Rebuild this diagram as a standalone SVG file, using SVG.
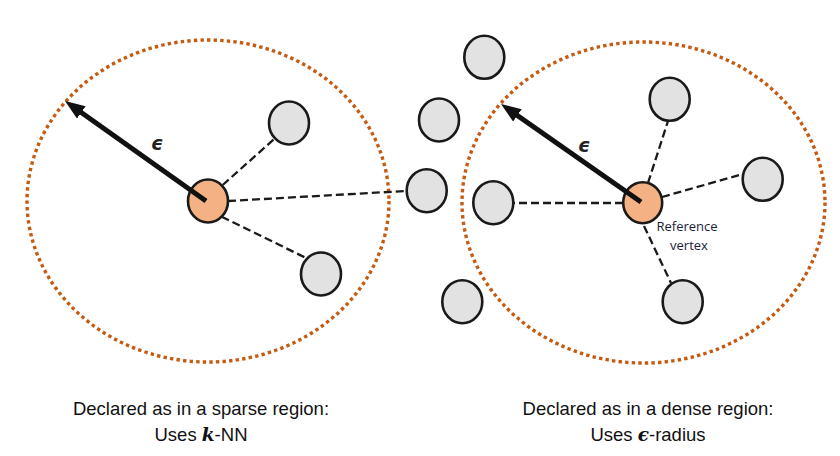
<svg xmlns="http://www.w3.org/2000/svg" width="840" height="456" viewBox="0 0 840 456">
<style>
.region{fill:none;stroke:#c55a11;stroke-width:3.4;stroke-dasharray:3.4 3.2}
.node{fill:#e2e2e2;stroke:#1a1a1a;stroke-width:2.6}
.ref{fill:#f4b183;stroke:#1a1a1a;stroke-width:2.6}
.edge{stroke:#1a1a1a;stroke-width:2.3;stroke-dasharray:8 4;fill:none}
.radius{stroke:#111;stroke-width:5;fill:none;marker-end:url(#ah)}
.eps{font-family:"DejaVu Sans",sans-serif;font-style:italic;font-weight:bold;font-size:19px;fill:#222}
.cap{font-family:"Liberation Sans",Arial,sans-serif;font-size:18.5px;fill:#111;text-anchor:middle}
.math{font-family:"DejaVu Serif",serif;font-style:italic;font-weight:bold}
.lbl{font-family:"Open Sans",sans-serif;font-size:13px;fill:#1b1b3a;text-anchor:middle}
</style>
<defs>
<marker id="ah" markerWidth="4" markerHeight="3" refX="2" refY="1.5" orient="auto" markerUnits="strokeWidth">
<path d="M0,0 L4,1.5 L0,3 z" fill="#111"/>
</marker>
</defs>
<g id="regions">
<ellipse id="sparse-region" class="region" cx="208" cy="201" rx="181" ry="161"/>
<ellipse id="dense-region" class="region" cx="643.5" cy="202.5" rx="181.5" ry="160.5"/>
</g>
<g id="connectors">
<line class="edge" x1="222.7" y1="185" x2="275" y2="138.3"/>
<line class="edge" x1="228" y1="201" x2="406" y2="191"/>
<line class="edge" x1="221.7" y1="216.7" x2="306.7" y2="258.3"/>
<line class="edge" x1="648" y1="183" x2="668" y2="121"/>
<line class="edge" x1="662" y1="197" x2="743" y2="174"/>
<line class="edge" x1="623" y1="203" x2="514" y2="203"/>
<line class="edge" x1="644" y1="226" x2="671" y2="283"/>
</g>
<g id="n-s1"><ellipse class="node" cx="289" cy="123" rx="20" ry="21.5"/></g>
<g id="n-s2"><ellipse class="node" cx="321" cy="274" rx="20" ry="21.5"/></g>
<g id="n-mid"><ellipse class="node" cx="426.7" cy="190.7" rx="20" ry="21.5"/></g>
<g id="n-o1"><ellipse class="node" cx="484.3" cy="57.3" rx="20" ry="21.5"/></g>
<g id="n-o2"><ellipse class="node" cx="439" cy="120" rx="20" ry="21.5"/></g>
<g id="n-o3"><ellipse class="node" cx="462.3" cy="301.7" rx="20" ry="21.5"/></g>
<g id="n-d1"><ellipse class="node" cx="669.7" cy="99.3" rx="20" ry="21.5"/></g>
<g id="n-d2"><ellipse class="node" cx="762.7" cy="179.3" rx="20" ry="21.5"/></g>
<g id="n-d3"><ellipse class="node" cx="493.3" cy="202.7" rx="20" ry="21.5"/></g>
<g id="n-d4"><ellipse class="node" cx="682.7" cy="301.7" rx="20" ry="21.5"/></g>
<g id="ref-sparse"><ellipse class="ref" cx="208" cy="201" rx="20" ry="21.5"/></g>
<g id="ref-dense"><ellipse class="ref" cx="642.7" cy="202.7" rx="19.5" ry="20.5"/></g>
<g id="radii">
<line class="radius" x1="206" y1="201" x2="73.2" y2="106.7"/>
<text class="eps" x="151" y="150">ϵ</text>
<line class="radius" x1="641" y1="202" x2="509.2" y2="109.7"/>
<text class="eps" x="578" y="152">ϵ</text>
</g>
<g id="labels">
<text class="lbl" x="687" y="231">Reference</text>
<text class="lbl" x="689" y="250">vertex</text>
<text class="cap" x="201" y="415">Declared as in a sparse region:</text>
<text class="cap" x="201" y="441">Uses <tspan class="math">k</tspan>-NN</text>
<text class="cap" x="648" y="415">Declared as in a dense region:</text>
<text class="cap" x="648" y="441">Uses <tspan class="math">ϵ</tspan>-radius</text>
</g>
</svg>
